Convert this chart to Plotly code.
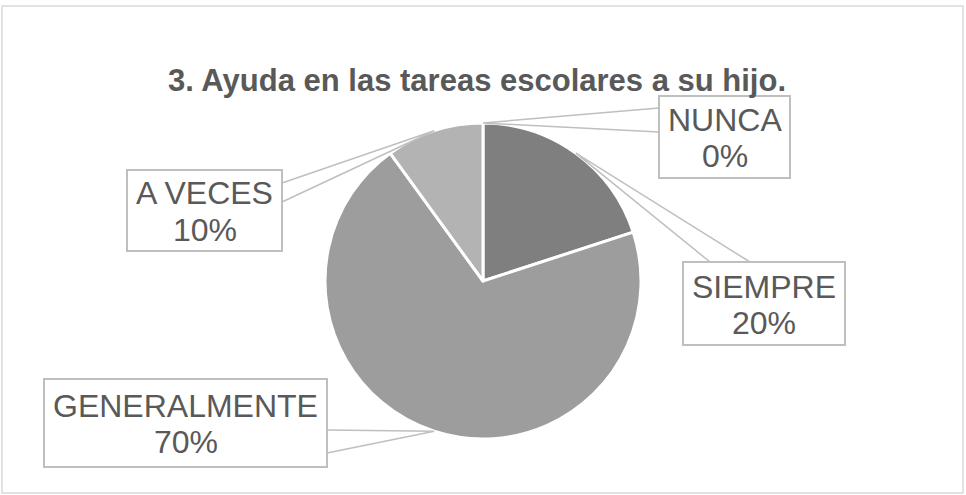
import math
import plotly.graph_objects as go

categories = ["NUNCA", "SIEMPRE", "GENERALMENTE", "A VECES"]
values = [0, 20, 70, 10]
pct_labels = ["0%", "20%", "70%", "10%"]
colors = ["#5f5f5f", "#7f7f7f", "#9d9d9d", "#b3b3b3"]
title_text = "3. Ayuda en las tareas escolares a su hijo."

W, H = 966, 495
CX, CY, R = 483, 281, 158

def px(x):
    return x / W

def py(y):
    return 1 - y / H

fig = go.Figure()
fig.add_trace(go.Pie(
    labels=categories, values=values, sort=False, direction="clockwise",
    rotation=0, textinfo="none", hoverinfo="label+percent",
    marker=dict(colors=colors, line=dict(color="white", width=3)),
    domain=dict(x=[px(CX - R), px(CX + R)], y=[py(CY + R), py(CY - R)]),
    showlegend=False,
))

# label boxes (pixel rectangles) and wedge-callout base points on the box
boxes = {
    "NUNCA": (659, 96, 790, 178),
    "SIEMPRE": (683, 262, 845, 345),
    "GENERALMENTE": (44, 379, 327, 467),
    "A VECES": (127, 170, 282, 251),
}
bases = {
    "NUNCA": ((659, 108), (659, 132)),
    "SIEMPRE": ((710, 262), (750, 262)),
    "GENERALMENTE": ((327, 430), (327, 453)),
    "A VECES": ((282, 183), (282, 202)),
}

FONT = "Liberation Sans, Arial"
shapes = []
annotations = []
total = sum(values)
cum = 0
for cat, v, pl in zip(categories, values, pct_labels):
    mid = (cum + v / 2) / total * 2 * math.pi
    cum += v
    ax = CX + R * math.sin(mid)
    ay = CY - R * math.cos(mid)
    (b1x, b1y), (b2x, b2y) = bases[cat]
    path = f"M {px(b1x)} {py(b1y)} L {px(ax)} {py(ay)} L {px(b2x)} {py(b2y)}"
    shapes.append(dict(type="path", xref="paper", yref="paper", path=path,
                       line=dict(color="#bfbfbf", width=1.5)))
    x0, y0, x1, y1 = boxes[cat]
    shapes.append(dict(type="rect", xref="paper", yref="paper",
                       x0=px(x0), x1=px(x1), y0=py(y1), y1=py(y0),
                       fillcolor="white", line=dict(color="#bfbfbf", width=2)))
    cxm, cym = (x0 + x1) / 2, (y0 + y1) / 2
    for txt, dy in ((cat, -18), (pl, 18)):
        annotations.append(dict(
            x=px(cxm), y=py(cym + dy + 1), xref="paper", yref="paper",
            text=txt, showarrow=False, xanchor="center", yanchor="middle",
            font=dict(family=FONT, size=32, color="#595959"),
        ))

annotations.append(dict(
    x=px(477), y=py(80), xref="paper", yref="paper", text=f"<b>{title_text}</b>",
    showarrow=False, xanchor="center", yanchor="middle",
    font=dict(family=FONT, size=31, color="#595959"),
))

shapes.append(dict(type="rect", xref="paper", yref="paper",
                   x0=px(2), x1=px(963), y0=py(493), y1=py(6),
                   line=dict(color="#d9d9d9", width=1.5), layer="below"))

fig.update_layout(
    width=W, height=H, margin=dict(l=0, r=0, t=0, b=0),
    paper_bgcolor="white", plot_bgcolor="white",
    shapes=shapes, annotations=annotations,
)
fig.write_html("out.html", config={"displayModeBar": False},
               post_script="document.body.style.margin='0';document.body.style.overflow='hidden';")
